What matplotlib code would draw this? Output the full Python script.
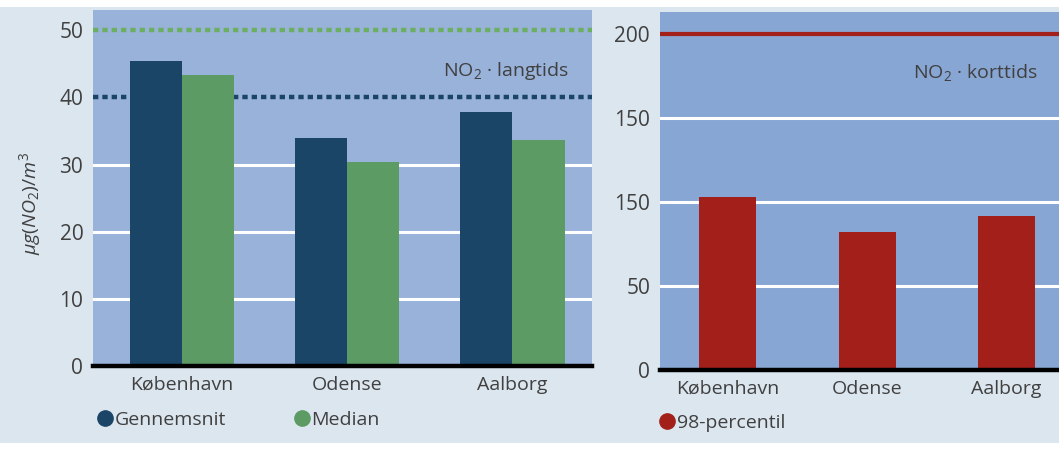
import matplotlib
matplotlib.use("Agg")
import matplotlib.pyplot as plt
from matplotlib.lines import Line2D
from matplotlib.patches import Rectangle
import numpy as np

# --- data ---------------------------------------------------------------
cities = ["København", "Odense", "Aalborg"]
gennemsnit = [45.4, 33.9, 37.8]      # long-term mean NO2
median = [43.3, 30.4, 33.7]          # long-term median NO2
percentil98 = [103, 82, 92]          # short-term 98th percentile
left_ticks = [0, 10, 20, 30, 40, 50]
left_ticklabels = ["0", "10", "20", "30", "40", "50"]
right_ticks = [0, 50, 100, 150, 200]
right_ticklabels = ["0", "50", "150", "150", "200"]
limit_long_a = 40
limit_long_b = 50
limit_short = 200

# --- style --------------------------------------------------------------
plt.rcParams["font.family"] = ["Open Sans", "DejaVu Sans"]
plt.rcParams["mathtext.fontset"] = "custom"
plt.rcParams["mathtext.rm"] = "Open Sans"
plt.rcParams["mathtext.it"] = "Open Sans:italic"

fig_bg = "#dce6ef"
ax_bg_left = "#98b2da"
ax_bg_right = "#88a6d3"
c_dark = "#1b4567"
c_green = "#5c9b64"
c_green_dot = "#6cae62"
c_red = "#a3201a"
c_text = "#404040"

fig = plt.figure(figsize=(10.59, 4.57), dpi=100, facecolor=fig_bg)
# white paper margins
fig.patches.append(Rectangle((0, 0), 1, 0.03, transform=fig.transFigure,
                             facecolor="white", edgecolor="none", zorder=0))
fig.patches.append(Rectangle((0, 0.985), 1, 0.015, transform=fig.transFigure,
                             facecolor="white", edgecolor="none", zorder=0))

x = np.arange(len(cities))
dotted = (0, (1.2, 0.9))

# --- left panel: long-term --------------------------------------------
ax1 = fig.add_axes([0.0878, 0.199, 0.471, 0.779])
ax1.set_facecolor(ax_bg_left)
w = 0.315
for t in [10, 20, 30]:
    ax1.axhline(t, color="white", lw=2.2, zorder=1)
ax1.axhline(limit_long_a, color=c_dark, lw=3.2, ls=dotted, zorder=1)
ax1.axhline(limit_long_b, color=c_green_dot, lw=3.2, ls=dotted, zorder=1)
ax1.bar(x - w / 2, gennemsnit, width=w, color=c_dark, zorder=2)
ax1.bar(x + w / 2, median, width=w, color=c_green, zorder=2)
ax1.axhline(0, color="black", lw=3.2, zorder=3, clip_on=False)
ax1.set_xlim(-0.54, 2.48)
ax1.set_ylim(0, 53.0)
ax1.set_yticks(left_ticks)
ax1.set_yticklabels(left_ticklabels)
ax1.set_xticks(x)
ax1.set_xticklabels(cities)
ax1.text(1.96, 44, "NO$_2$ · langtids", ha="center", va="center",
         fontsize=14, color=c_text)
ax1.legend(handles=[
    Line2D([], [], marker="o", ls="none", color=c_dark, markersize=11, label="Gennemsnit"),
    Line2D([], [], marker="o", ls="none", color=c_green, markersize=11, label="Median")],
    loc="upper left", bbox_to_anchor=(-0.015, -0.105), ncol=2, frameon=False,
    handletextpad=-0.1, columnspacing=3.3, fontsize=14, labelcolor=c_text,
    borderaxespad=0, handlelength=1.2)

# --- right panel: short-term ------------------------------------------
ax2 = fig.add_axes([0.623, 0.190, 0.377, 0.783])
ax2.set_facecolor(ax_bg_right)
for t in [50, 100, 150]:
    ax2.axhline(t, color="white", lw=2.2, zorder=1)
ax2.axhline(limit_short, color=c_red, lw=3, zorder=1)
ax2.bar(x, percentil98, width=0.41, color=c_red, zorder=2)
ax2.axhline(0, color="black", lw=3.2, zorder=3, clip_on=False)
ax2.set_xlim(-0.49, 2.38)
ax2.set_ylim(0, 213)
ax2.set_yticks(right_ticks)
ax2.set_yticklabels(right_ticklabels)
ax2.set_xticks(x)
ax2.set_xticklabels(cities)
ax2.text(1.78, 177, "NO$_2$ · korttids", ha="center", va="center",
         fontsize=14, color=c_text)
ax2.legend(handles=[
    Line2D([], [], marker="o", ls="none", color=c_red, markersize=11, label="98-percentil")],
    loc="upper left", bbox_to_anchor=(-0.03, -0.1), frameon=False,
    handletextpad=-0.1, fontsize=14, labelcolor=c_text,
    borderaxespad=0, handlelength=1.2)

for ax in (ax1, ax2):
    for s in ax.spines.values():
        s.set_visible(False)
    ax.tick_params(length=0, colors=c_text)
    ax.tick_params(axis="y", pad=7, labelsize=15)
    ax.tick_params(axis="x", pad=7, labelsize=14)

fig.text(0.028, 0.555, r"$\mu g(NO_2)/m^3$", rotation=90, ha="center",
         va="center", fontsize=14, color=c_text)

fig.savefig("out.png", dpi=100, facecolor=fig.get_facecolor())
